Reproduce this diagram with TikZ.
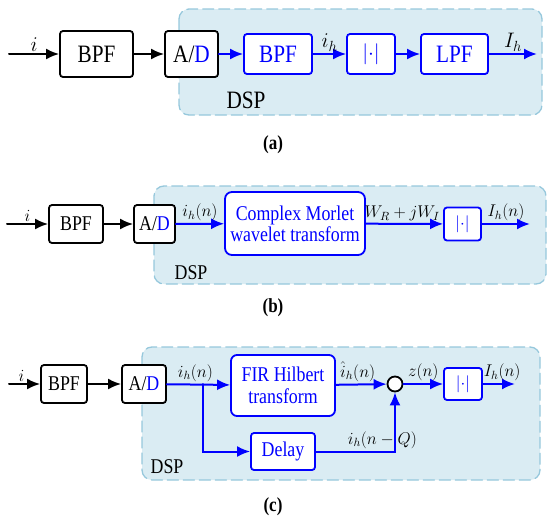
\documentclass[tikz,border=0pt]{standalone}
\usepackage{fix-cm}
\usepackage{fontspec}
\setmainfont{Liberation Serif}[FakeStretch=0.85]
\usetikzlibrary{arrows.meta}
\definecolor{dspfill}{RGB}{218,236,243}
\definecolor{dspline}{RGB}{150,200,220}

\begin{document}
\begin{tikzpicture}[x=1pt,y=-1pt,line cap=round,>={Latex[length=13pt,width=11pt]},
		blk/.style={draw,fill=white,line width=1.8pt,rounded corners=3pt,align=center,inner sep=0pt},
		bblk/.style={blk,draw=blue,text=blue},
		sig/.style={->,line width=2pt},
		bsig/.style={sig,blue},
		lbl/.style={above,inner sep=2pt,text=black},
		dsp/.style={draw=dspline,fill=dspfill,line width=1.3pt,dash pattern=on 11pt off 5pt,rounded corners=10pt}]
	\useasboundingbox (0,0) rectangle (550,525);
	% (a)
	\begin{scope}[font=\fontsize{25}{26}\selectfont]
		\draw[dsp] (179,9) rectangle (542,115);
		\node at (246,100) (dspa) {DSP};
		\coordinate (ina) at (9,54);
		\coordinate (outa) at (537,54);
		\node[blk,minimum width=73pt,minimum height=46pt] (bpfa) at (96.5,54) {BPF};
		\node[blk,minimum width=53pt,minimum height=46pt] (ada) at (191.5,54) {A/\textcolor{blue}{D}};
		\node[bblk,minimum width=68pt,minimum height=40pt] (bpfda) at (278,54) {BPF};
		\node[bblk,minimum width=48pt,minimum height=40pt,font=\fontsize{21}{22}\selectfont] (absa) at (371,54) {$|{\cdot}|$};
		\node[bblk,minimum width=67pt,minimum height=40pt] (lpfa) at (454.5,54) {LPF};
		\begin{scope}[lbl/.append style={font=\fontsize{21}{22}\selectfont}]
			\draw[sig] (ina) -- node[lbl] {$i$} (bpfa);
			\draw[sig] (bpfa) -- (ada);
			\draw[bsig] (ada) -- (bpfda);
			\draw[bsig] (bpfda) -- node[lbl] {$i_h$} (absa);
			\draw[bsig] (absa) -- (lpfa);
			\draw[bsig] (lpfa) -- node[lbl] {$I_h$} (outa);
		\end{scope}
	\end{scope}
	\node[font=\fontsize{20}{22}\selectfont\bfseries] (capa) at (273,145) {(a)};
	% (b)
	\begin{scope}[font=\fontsize{21}{21}\selectfont,lbl/.append style={font=\fontsize{17}{18}\selectfont}]
		\draw[dsp] (154,186) rectangle (546,284);
		\node at (191,273) (dspb) {DSP};
		\coordinate (inb) at (7,224);
		\coordinate (outb) at (530,224);
		\node[blk,minimum width=54pt,minimum height=38pt] (bpfb) at (76,224) {BPF};
		\node[blk,minimum width=41pt,minimum height=38pt] (adb) at (154.5,224) {A/\textcolor{blue}{D}};
		\node[bblk,rounded corners=7pt,minimum width=140pt,minimum height=63pt] (cmw) at (295,223.5) {Complex Morlet\\wavelet transform};
		\node[bblk,minimum width=37pt,minimum height=33pt,font=\fontsize{17}{18}\selectfont] (absb) at (462.5,224) {$|{\cdot}|$};
		\draw[sig] (inb) -- node[lbl] {$i$} (bpfb);
		\draw[sig] (bpfb) -- (adb);
		\draw[bsig] (adb) -- node[lbl] {$i_h(n)$} (cmw);
		\draw[bsig] (cmw) -- node[lbl,pos=0.47] {$W_R+jW_I$} (absb);
		\draw[bsig] (absb) -- node[lbl] {$I_h(n)$} (outb);
	\end{scope}
	\node[font=\fontsize{20}{22}\selectfont\bfseries] (capb) at (273,308) {(b)};
	% (c)
	\begin{scope}[font=\fontsize{21}{22}\selectfont,lbl/.append style={font=\fontsize{17}{18}\selectfont}]
		\draw[dsp] (142,347) rectangle (540,480);
		\node at (167,467) (dspc) {DSP};
		\coordinate (inc) at (9,384);
		\coordinate (outc) at (515,384);
		\coordinate (br) at (203,384);
		\node[blk,minimum width=46pt,minimum height=38pt] (bpfc) at (64,384) {BPF};
		\node[blk,minimum width=44pt,minimum height=38pt] (adc) at (144,384) {A/\textcolor{blue}{D}};
		\node[bblk,rounded corners=6pt,minimum width=104pt,minimum height=61pt] (fir) at (283,385.5) {FIR Hilbert\\transform};
		\node[bblk,minimum width=64pt,minimum height=37pt] (dly) at (283,451.5) {Delay};
		\node[draw,fill=white,circle,line width=1.8pt,minimum size=15pt,inner sep=0pt] (sum) at (395,384) {};
		\node[bblk,minimum width=38pt,minimum height=32pt,font=\fontsize{17}{18}\selectfont] (absc) at (463,384) {$|{\cdot}|$};
		\draw[sig] (inc) -- node[lbl,pos=0.4] {$i$} (bpfc);
		\draw[sig] (bpfc) -- (adc);
		\draw[bsig] (adc) -- node[lbl,pos=0.45] {$i_h(n)$} (fir);
		\draw[bsig] (br) |- (dly);
		\draw[bsig] (fir) -- node[lbl,pos=0.43] {$\hat{i}_h(n)$} (sum);
		\draw[bsig] (dly) -| node[lbl,pos=0.42] {$i_h(n-Q)$} (sum);
		\draw[bsig] (sum) -- node[lbl] {$z(n)$} (absc);
		\draw[bsig] (absc) -- node[lbl,pos=0.6] {$I_h(n)$} (outc);
	\end{scope}
	\node[font=\fontsize{20}{22}\selectfont\bfseries] (capc) at (273,507) {(c)};
\end{tikzpicture}
\end{document}
